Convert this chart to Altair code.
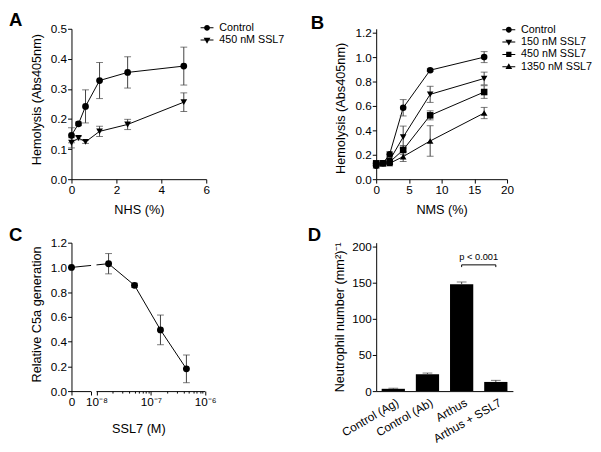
import math
import altair as alt
import pandas as pd

FONT = "Liberation Sans"
INK = "#000000"
ERR = "#404040"

# ---------------- Panel A : NHS ----------------
a_nhs = [0, 0.3125, 0.625, 1.25, 2.5, 5]
a_series = ["Control", "450 nM SSL7"]
a_control = [0.146, 0.184, 0.242, 0.328, 0.355, 0.376]
a_control_sem = [0.025, 0.006, 0.055, 0.060, 0.052, 0.063]
a_ssl7 = [0.121, 0.137, 0.124, 0.159, 0.182, 0.256]
a_ssl7_sem = [0.017, 0.006, 0.005, 0.017, 0.017, 0.031]
a_xticks = [0, 2, 4, 6]
a_yticks = [0.0, 0.1, 0.2, 0.3, 0.4, 0.5]

# ---------------- Panel B : NMS ----------------
b_nms = [0, 1.03, 2.06, 4.125, 8.25, 16.5]
b_series = ["Control", "150 nM SSL7", "450 nM SSL7", "1350 nM SSL7"]
b_control = [0.11, 0.13, 0.205, 0.585, 0.893, 1.0]
b_control_sem = [0.02, 0.005, 0.02, 0.067, 0.01, 0.045]
b_150 = [0.12, 0.13, 0.155, 0.345, 0.695, 0.825]
b_150_sem = [0.01, 0.005, 0.01, 0.09, 0.066, 0.052]
b_450 = [0.13, 0.13, 0.14, 0.24, 0.523, 0.714]
b_450_sem = [0.01, 0.005, 0.01, 0.036, 0.037, 0.052]
b_1350 = [0.12, 0.13, 0.13, 0.185, 0.313, 0.542]
b_1350_sem = [0.01, 0.005, 0.01, 0.04, 0.125, 0.046]
b_xticks = [0, 5, 10, 15, 20]
b_yticks = [0.0, 0.2, 0.4, 0.6, 0.8, 1.0, 1.2]

# ---------------- Panel C : C5a ----------------
c_conc = [0, 1.667e-8, 5e-8, 1.5e-7, 4.5e-7]
c_rel = [1.0, 1.03, 0.855, 0.495, 0.18]
c_rel_sem = [0.0, 0.082, 0.017, 0.12, 0.112]
c_yticks = [0.0, 0.2, 0.4, 0.6, 0.8, 1.0, 1.2]
C_ZERO = -8.46          # axis position used for the "0" concentration
C_BREAK = [-8.10, -8.0]  # axis break
c_decades = [-8, -7, -6]

# ---------------- Panel D : neutrophils ----------------
d_groups = ["Control (Ag)", "Control (Ab)", "Arthus", "Arthus + SSL7"]
d_counts = [3.2, 23.5, 147.8, 12.7]
d_counts_sem = [0.8, 1.5, 3.2, 2.2]
d_yticks = [0, 50, 100, 150, 200]
d_pair = ["Arthus", "Arthus + SSL7"]
d_bracket_y = 174.7
d_bracket_tip = 171.6
d_pvalue = "p < 0.001"
d_pvalue_y = 185.0

# legend symbols: a short horizontal bar (the line) plus the marker, all filled
LEG_PATHS = {
    "circle": "M-2.2,-0.17H2.2V0.17H-2.2ZM1,0A1,1,0,1,1,-1,0A1,1,0,1,1,1,0Z",
    "triangle-down": "M-2.2,-0.17H2.2V0.17H-2.2ZM-1.15,-0.8L1.15,-0.8L0,1.2Z",
    "square": "M-2.2,-0.17H2.2V0.17H-2.2ZM-0.9,-0.9H0.9V0.9H-0.9Z",
    "triangle-up": "M-2.2,-0.17H2.2V0.17H-2.2ZM-1.15,0.8L0,-1.2L1.15,0.8Z",
}


def series_frame(xs, names, means_list, sems_list):
    rows = []
    for name, means, sems in zip(names, means_list, sems_list):
        for x, m, s in zip(xs, means, sems):
            rows.append({"x": x, "series": name, "key": name, "y": m, "lo": m - s, "hi": m + s})
    return pd.DataFrame(rows)


def series_legend(lx, ly):
    return alt.Legend(
        title=None, orient="none", legendX=lx, legendY=ly, padding=0,
        labelFont=FONT, labelFontSize=11, labelColor="black", labelOffset=7,
        symbolSize=36, rowPadding=0.6, symbolStrokeWidth=0,
        symbolFillColor="black", symbolOpacity=1)


def panel_title(letter, dx, dy):
    return alt.TitleParams(text=letter, anchor="start", frame="group", orient="top",
                           font=FONT, fontSize=19, fontWeight="bold", color="black",
                           dx=dx, dy=dy, offset=0, baseline="alphabetic")


def y_axis(title, values, tx, ty, fmt=".1f"):
    return alt.Axis(title=title, values=values, format=fmt, titleX=tx, titleY=ty,
                    titleBaseline="middle", titleAngle=270, titleAlign="center")


def x_axis(title, values, ty, fmt="d"):
    return alt.Axis(title=title, values=values, format=fmt, titleY=ty,
                    titleBaseline="alphabetic", labelFlush=False)


def line_panel(df, series, shapes, xdom, xaxis, ydom, yaxis, w, h, legend, title, psize, cap):
    xs = alt.Scale(domain=xdom, nice=False, zero=False)
    ys = alt.Scale(domain=ydom, nice=False, zero=False)
    X = alt.X("x:Q", scale=xs, axis=xaxis)
    base = alt.Chart(df)
    lines = base.mark_line(color=INK, strokeWidth=1).encode(
        x=X, y=alt.Y("y:Q", scale=ys, axis=yaxis), detail="series:N", order="x:Q")
    bars = base.mark_rule(color=ERR, strokeWidth=1).encode(
        x=X, y=alt.Y("lo:Q", scale=ys, axis=yaxis), y2="hi:Q")
    cap_hi = base.mark_tick(color=ERR, orient="horizontal", size=cap, thickness=1).encode(
        x=X, y=alt.Y("hi:Q", scale=ys, axis=yaxis))
    cap_lo = base.mark_tick(color=ERR, orient="horizontal", size=cap, thickness=1).encode(
        x=X, y=alt.Y("lo:Q", scale=ys, axis=yaxis))
    pts = base.mark_point(filled=True, size=psize, opacity=1, color=INK).encode(
        x=X, y=alt.Y("y:Q", scale=ys, axis=yaxis),
        shape=alt.Shape("series:N", scale=alt.Scale(domain=series, range=shapes), legend=None))
    # legend-only layer (no rows): line-and-marker symbols
    leg = base.transform_filter("false").mark_point(
        filled=True, size=36, opacity=1, color=INK, strokeWidth=0).encode(
        x=X, y=alt.Y("y:Q", scale=ys, axis=yaxis),
        shape=alt.Shape("key:N", scale=alt.Scale(domain=series, range=[LEG_PATHS[s] for s in shapes]),
                        legend=legend))
    return alt.layer(lines, bars, cap_hi, cap_lo, pts, leg).resolve_scale(
        shape="independent").properties(width=w, height=h, title=title)


# ---- A ----
a_df = series_frame(a_nhs, a_series, [a_control, a_ssl7], [a_control_sem, a_ssl7_sem])
a_shapes = ["circle", "triangle-down"]
chart_a = line_panel(
    a_df, a_series, a_shapes, [0, 6], x_axis("NHS (%)", a_xticks, 35),
    [0, 0.5], y_axis("Hemolysis (Abs405nm)", a_yticks, -36, 72), 138, 154,
    series_legend(133.3, -6.5), panel_title("A", -64, 22.5), 48, 7)

# ---- B ----
b_df = series_frame(b_nms, b_series, [b_control, b_150, b_450, b_1350],
                    [b_control_sem, b_150_sem, b_450_sem, b_1350_sem])
b_shapes = ["circle", "triangle-down", "square", "triangle-up"]
chart_b = line_panel(
    b_df, b_series, b_shapes, [0, 20], x_axis("NMS (%)", b_xticks, 35),
    [0, 1.2 * 154 / 150], y_axis("Hemolysis (Abs405nm)", b_yticks, -36, 81), 134, 154,
    series_legend(130.3, -4.5), panel_title("B", -67, 23.5), 45, 7)

# ---- C ----
c_pos = [C_ZERO if v == 0 else math.log10(v) for v in c_conc]
c_df = pd.DataFrame({"pos": c_pos, "y": c_rel,
                     "lo": [m - s for m, s in zip(c_rel, c_rel_sem)],
                     "hi": [m + s for m, s in zip(c_rel, c_rel_sem)]})
c_minor = [math.log10(k) + d for d in c_decades[:-1] for k in range(2, 10)]
c_major = [C_ZERO, C_BREAK[0]] + c_decades
c_label_expr = ("abs(datum.value + 8) < 0.001 ? '10\u207b\u2078' : "
                "abs(datum.value + 7) < 0.001 ? '10\u207b\u2077' : "
                "abs(datum.value + 6) < 0.001 ? '10\u207b\u2076' : "
                "datum.value < -8.3 ? '0' : ''")
c_major_test = ("datum.value < -8.05 || abs(datum.value + 8) < 0.001 || "
                "abs(datum.value + 7) < 0.001 || abs(datum.value + 6) < 0.001")
c_xaxis = alt.Axis(title="SSL7 (M)", values=c_major + c_minor, domain=False, labelExpr=c_label_expr,
                   tickSize={"condition": {"test": c_major_test, "value": 4}, "value": 2},
                   labelOverlap=False, labelFlush=False, titleY=42, titleBaseline="alphabetic")
c_yaxis = y_axis("Relative C5a generation", c_yticks, -36, 73)
cxs = alt.Scale(domain=[C_ZERO, -6], nice=False, zero=False)
cys = alt.Scale(domain=[0, 1.2], nice=False, zero=False)
CX = alt.X("pos:Q", scale=cxs, axis=c_xaxis)
c_base = alt.Chart(c_df)
c_line = c_base.mark_line(color=INK, strokeWidth=1).encode(
    x=CX, y=alt.Y("y:Q", scale=cys, axis=c_yaxis), order="pos:Q")
c_gap = alt.Chart(pd.DataFrame({"x1": [C_BREAK[0]], "x2": [C_BREAK[1]], "y1": [0.03], "y2": [1.2]})).mark_rect(
    color="white").encode(x=alt.X("x1:Q", scale=cxs, axis=c_xaxis), x2="x2:Q",
                          y=alt.Y("y1:Q", scale=cys, axis=c_yaxis), y2="y2:Q")
c_bars = c_base.mark_rule(color=ERR, strokeWidth=1).encode(
    x=CX, y=alt.Y("lo:Q", scale=cys, axis=c_yaxis), y2="hi:Q")
c_cap_hi = c_base.mark_tick(color=ERR, orient="horizontal", size=7, thickness=1).encode(
    x=CX, y=alt.Y("hi:Q", scale=cys, axis=c_yaxis))
c_cap_lo = c_base.mark_tick(color=ERR, orient="horizontal", size=7, thickness=1).encode(
    x=CX, y=alt.Y("lo:Q", scale=cys, axis=c_yaxis))
c_pts = c_base.mark_point(filled=True, size=50, opacity=1, color=INK, shape="circle").encode(
    x=CX, y=alt.Y("y:Q", scale=cys, axis=c_yaxis))
c_axis_df = pd.DataFrame({"x1": [C_ZERO, C_BREAK[1]], "x2": [C_BREAK[0], -6.0], "y": [0.0, 0.0]})
c_axisline = alt.Chart(c_axis_df).mark_rule(color=INK, strokeWidth=1, yOffset=0.5).encode(
    x=alt.X("x1:Q", scale=cxs, axis=c_xaxis), x2="x2:Q", y=alt.Y("y:Q", scale=cys, axis=c_yaxis))
chart_c = alt.layer(c_line, c_gap, c_bars, c_cap_hi, c_cap_lo, c_pts, c_axisline).properties(
    width=137, height=152, title=panel_title("C", -64, 23.5))

# ---- D ----
d_df = pd.DataFrame({"group": d_groups, "value": d_counts,
                     "hi": [v + e for v, e in zip(d_counts, d_counts_sem)]})
d_xs = alt.Scale(domain=d_groups, paddingInner=0.32, paddingOuter=0.16)
d_ys = alt.Scale(domain=[0, 200 * 152 / 148], nice=False, zero=True)
d_xaxis = alt.Axis(title=None, labelAngle=330, ticks=False, labelAlign="right", labelBaseline="top",
                   labelPadding=6, labelOffset=2, labelFontSize=12)
d_yaxis = y_axis("Neutrophil number (mm\u00b2)\u207b\u00b9", d_yticks, -37, 76, fmt="d")
DX = alt.X("group:N", scale=d_xs, axis=d_xaxis, sort=d_groups)
d_base = alt.Chart(d_df)
d_barmark = d_base.mark_bar(color=INK).encode(x=DX, y=alt.Y("value:Q", scale=d_ys, axis=d_yaxis))
d_err = d_base.mark_rule(color=ERR, strokeWidth=1).encode(
    x=DX, y=alt.Y("value:Q", scale=d_ys, axis=d_yaxis), y2="hi:Q")
d_cap = d_base.mark_tick(color=ERR, orient="horizontal", size=10, thickness=1).encode(
    x=DX, y=alt.Y("hi:Q", scale=d_ys, axis=d_yaxis))
br_df = pd.DataFrame({"a": [d_pair[0]], "b": [d_pair[1]], "y": [d_bracket_y]})
d_br = alt.Chart(br_df).mark_rule(color=INK, strokeWidth=1).encode(
    x=alt.X("a:N", scale=d_xs, axis=d_xaxis), x2="b:N", y=alt.Y("y:Q", scale=d_ys, axis=d_yaxis))
tips_df = pd.DataFrame({"g": d_pair, "y": [d_bracket_y] * 2, "y2": [d_bracket_tip] * 2})
d_tips = alt.Chart(tips_df).mark_rule(color=INK, strokeWidth=1).encode(
    x=alt.X("g:N", scale=d_xs, axis=d_xaxis), y=alt.Y("y:Q", scale=d_ys, axis=d_yaxis), y2="y2:Q")
pv_df = pd.DataFrame({"g": [d_pair[0]], "y": [d_pvalue_y], "t": [d_pvalue]})
d_pv = alt.Chart(pv_df).mark_text(font=FONT, fontSize=9.5, color=INK, dx=17.5, baseline="middle").encode(
    x=alt.X("g:N", scale=d_xs, axis=d_xaxis), y=alt.Y("y:Q", scale=d_ys, axis=d_yaxis), text="t:N")
chart_d = alt.layer(d_barmark, d_err, d_cap, d_br, d_tips, d_pv).properties(
    width=140, height=152, title=panel_title("D", -70, 19.5))

chart = alt.concat(chart_a, chart_b, chart_c, chart_d, columns=2,
                   spacing={"row": 65, "column": 172}, bounds="flush", align="all")

chart = chart.properties(
    padding={"left": 0, "top": -3, "right": 0, "bottom": 0}, background="white"
).configure_view(stroke="transparent").configure_axis(
    labelFont=FONT, titleFont=FONT, labelFontSize=12, titleFontSize=13, titleFontWeight="normal",
    labelColor="black", titleColor="black", domainColor="black", tickColor="black",
    domainWidth=1, tickWidth=1, tickSize=4, grid=False, labelPadding=1
).configure_axisX(labelPadding=2).configure_title(color="black")

chart.save("out.html", embed_options={"renderer": "svg", "actions": False})
